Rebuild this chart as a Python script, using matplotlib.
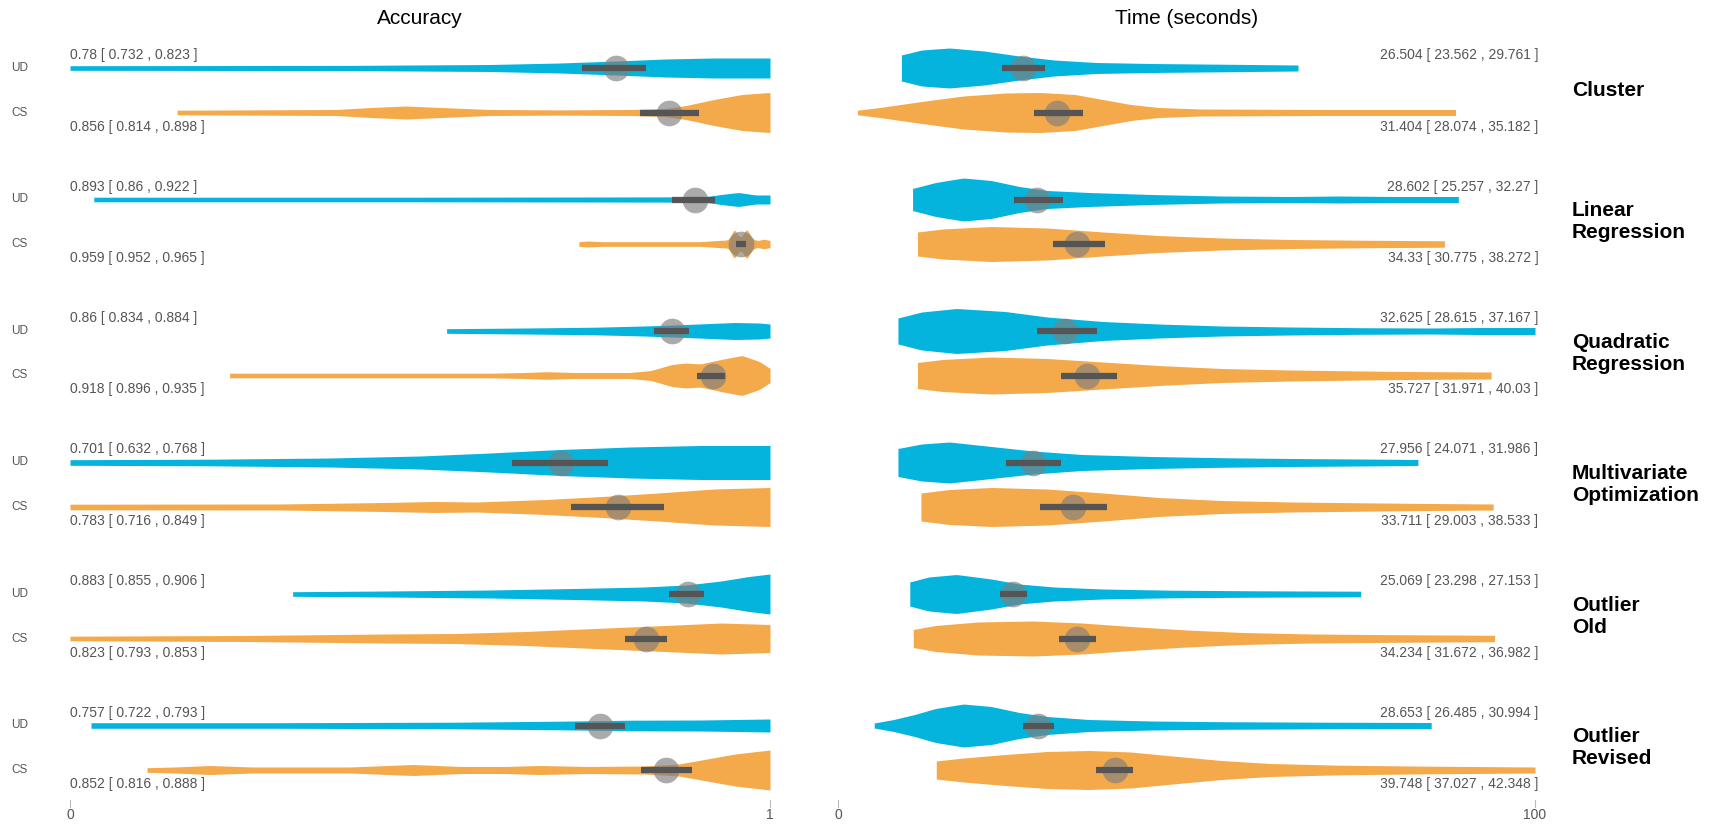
import numpy as np
import matplotlib.pyplot as plt

plt.rcParams['font.family'] = ['Liberation Sans', 'DejaVu Sans']

# task groups, top to bottom
tasks = ["Cluster", "Linear\nRegression", "Quadratic\nRegression",
         "Multivariate\nOptimization", "Outlier\nOld", "Outlier\nRevised"]
conditions = ["UD", "CS"]

# mean and 95% interval per task
acc_ud_mean = [0.78, 0.893, 0.86, 0.701, 0.883, 0.757]
acc_ud_lo = [0.732, 0.86, 0.834, 0.632, 0.855, 0.722]
acc_ud_hi = [0.823, 0.922, 0.884, 0.768, 0.906, 0.793]
acc_cs_mean = [0.856, 0.959, 0.918, 0.783, 0.823, 0.852]
acc_cs_lo = [0.814, 0.952, 0.896, 0.716, 0.793, 0.816]
acc_cs_hi = [0.898, 0.965, 0.935, 0.849, 0.853, 0.888]

time_ud_mean = [26.504, 28.602, 32.625, 27.956, 25.069, 28.653]
time_ud_lo = [23.562, 25.257, 28.615, 24.071, 23.298, 26.485]
time_ud_hi = [29.761, 32.27, 37.167, 31.986, 27.153, 30.994]
time_cs_mean = [31.404, 34.33, 35.727, 33.711, 34.234, 39.748]
time_cs_lo = [28.074, 30.775, 31.971, 29.003, 31.672, 37.027]
time_cs_hi = [35.182, 38.272, 40.03, 38.533, 36.982, 42.348]

# violin outlines: (value, half width in px) pairs
acc_ud_shapes = [
    [(0.0, 2.3), (0.4, 2.6), (0.6, 3.5), (0.7, 5), (0.78, 7), (0.85, 9), (0.92, 10), (1.0, 10)],
    [(0.034, 2.3), (0.5, 2.3), (0.85, 2.6), (0.91, 3), (0.93, 5), (0.955, 7), (0.98, 4.5), (1.0, 4.5)],
    [(0.538, 2.3), (0.65, 3), (0.75, 3.8), (0.82, 5), (0.88, 6.5), (0.95, 8.5), (0.985, 8), (1.0, 7)],
    [(0.0, 2.8), (0.2, 3.3), (0.37, 4.5), (0.5, 6.5), (0.6, 9.5), (0.7, 13), (0.8, 15.5), (0.9, 17), (1.0, 17)],
    [(0.318, 2.3), (0.45, 3), (0.6, 4), (0.72, 5.5), (0.82, 7), (0.88, 9), (0.93, 13), (0.97, 17.5), (1.0, 20)],
    [(0.03, 2.8), (0.3, 2.8), (0.55, 3.3), (0.7, 4.3), (0.8, 5.3), (0.9, 5.5), (1.0, 6.5)],
]
acc_cs_shapes = [
    [(0.153, 2.3), (0.38, 3), (0.43, 5), (0.48, 6.5), (0.53, 5), (0.6, 3), (0.7, 2.6), (0.8, 3),
     (0.85, 4), (0.88, 7), (0.92, 13), (0.96, 18), (1.0, 20)],
    [(0.727, 2.3), (0.74, 3), (0.76, 2.3), (0.9, 2.3), (0.925, 3.5), (0.94, 4), (0.944, 8), (0.949, 16),
     (0.953, 10), (0.958, 6), (0.962, 10), (0.967, 16), (0.972, 8), (0.978, 4), (0.985, 3.5), (0.99, 5),
     (1.0, 3.5)],
    [(0.228, 2.3), (0.6, 2.3), (0.65, 3), (0.68, 3.8), (0.72, 3), (0.8, 3), (0.83, 5), (0.86, 11),
     (0.88, 12.5), (0.9, 11.5), (0.93, 16), (0.96, 20), (0.985, 14), (1.0, 7)],
    [(0.0, 2.8), (0.3, 3), (0.45, 4.5), (0.52, 5.5), (0.58, 5), (0.68, 7.5), (0.76, 10.5), (0.84, 14),
     (0.92, 18), (1.0, 19.5)],
    [(0.0, 2.3), (0.25, 3), (0.45, 4.5), (0.55, 5), (0.65, 7), (0.75, 10), (0.85, 13), (0.93, 15.5), (1.0, 14)],
    [(0.11, 2.3), (0.15, 3), (0.2, 4.5), (0.26, 3), (0.4, 3), (0.49, 5.5), (0.56, 3.5), (0.62, 3.5),
     (0.67, 4.5), (0.74, 3.5), (0.82, 4), (0.87, 6), (0.91, 11), (0.95, 16), (1.0, 20)],
]
time_ud_shapes = [
    [(9.1, 13), (12, 18), (16, 20), (21, 17), (26, 12), (31, 8), (37, 5.5), (45, 4.5), (55, 3.8), (66, 3)],
    [(10.7, 11), (14, 17), (18, 21.5), (22, 19), (26, 13), (30, 9), (36, 7), (45, 5), (55, 3.5), (65, 3),
     (72, 3.5), (80, 3), (89, 3)],
    [(8.6, 13), (12, 19), (17, 22.5), (24, 19.5), (30, 14), (38, 9.5), (46, 7), (55, 5), (65, 4), (75, 3.3),
     (85, 3), (92, 3.5), (100, 3.5)],
    [(8.6, 14), (12, 18.5), (16, 20.5), (22, 16), (28, 11.5), (35, 8), (45, 6), (55, 4.8), (65, 4), (75, 3.5),
     (83.2, 3)],
    [(10.3, 12), (13, 17), (17, 19.5), (22, 15), (26, 10), (31, 7), (38, 5), (48, 3.8), (60, 3.2), (75, 2.8)],
    [(5.2, 2.5), (8, 6), (11, 11), (14, 17), (18, 21.5), (22, 19), (26, 13), (30, 9), (36, 6), (45, 4.5),
     (55, 3.8), (70, 3.3), (85.1, 3)],
]
time_cs_shapes = [
    [(2.8, 2.3), (6, 5), (12, 11), (18, 16.5), (24, 19.5), (29, 20), (34, 18), (38, 13), (42, 8), (46, 5),
     (52, 3.5), (70, 3), (88.6, 3)],
    [(11.4, 12), (15, 15), (22, 17.5), (30, 16), (38, 12), (46, 8.5), (55, 6), (65, 4.5), (75, 3.8), (87, 3.2)],
    [(11.4, 13), (15, 16), (22, 18.5), (30, 17), (38, 13.5), (46, 10), (55, 7), (65, 5.5), (75, 4.5),
     (85, 3.8), (93.7, 3.5)],
    [(11.9, 14), (16, 17.5), (22, 19.5), (30, 18), (38, 14), (46, 9.5), (55, 6.5), (65, 5), (75, 4.2),
     (85, 3.5), (94, 3)],
    [(10.8, 9), (14, 13), (20, 16.5), (28, 17.5), (35, 15.5), (42, 12), (50, 8.5), (58, 6), (68, 4.5),
     (80, 3.8), (94.2, 3.2)],
    [(14.1, 9), (18, 12), (24, 15.5), (30, 18.5), (36, 19.5), (42, 18), (48, 14), (55, 9.5), (62, 6.5),
     (72, 4.8), (85, 3.8), (100, 3)],
]

acc_ticks = [0, 1]
time_ticks = [0, 100]

BLUE = '#05b4dc'
ORANGE = '#f4a94a'
TEXT_GRAY = '#555555'

W, H = 1713, 825
ROW0 = 68        # y of first UD row, px from top
ROW_STEP = 131.5
PAIR_GAP = 44.5


def row_y(i, j):
    return ROW0 + i * ROW_STEP + j * PAIR_GAP


def smooth_profile(shape, span):
    """Interpolate the outline on a fine grid and soften the corners"""
    xs = np.array([p[0] for p in shape])
    ws = np.array([p[1] for p in shape])
    grid = np.linspace(xs[0], xs[-1], 1000)
    w = np.interp(grid, xs, ws)
    step = grid[1] - grid[0]
    sigma = 0.002 * span / step
    if sigma >= 0.5:
        k = np.arange(-int(3 * sigma) - 1, int(3 * sigma) + 2)
        kern = np.exp(-0.5 * (k / sigma) ** 2)
        kern /= kern.sum()
        pad = len(k) // 2
        wp = np.pad(w, pad, mode='edge')
        w = np.convolve(wp, kern, mode='valid')
    return grid, w


def draw_panel(ax, span, shapes_ud, shapes_cs, means, los, his):
    for i in range(len(tasks)):
        for j, (shapes, color) in enumerate([(shapes_ud, BLUE), (shapes_cs, ORANGE)]):
            y = row_y(i, j)
            grid, w = smooth_profile(shapes[i], span)
            ax.fill_between(grid, y - w, y + w, color=color, lw=0, zorder=2)
            m, lo, hi = means[j][i], los[j][i], his[j][i]
            ax.plot([m], [y], 'o', ms=18.5, color='#7f7f7f', alpha=0.65, mec='none', zorder=3)
            ax.plot([lo, hi], [y, y], color='#555555', lw=4.5, solid_capstyle='butt', zorder=4)


fig = plt.figure(figsize=(W / 100, H / 100), dpi=100)
ax_acc = fig.add_axes([70 / W, 0, 700 / W, 1])
ax_time = fig.add_axes([838 / W, 0, 697 / W, 1])

ax_acc.set_xlim(0, 1)
ax_time.set_xlim(0, 100)
for ax in (ax_acc, ax_time):
    ax.set_ylim(H, 0)
    ax.axis('off')

draw_panel(ax_acc, 1.0, acc_ud_shapes, acc_cs_shapes,
           [acc_ud_mean, acc_cs_mean], [acc_ud_lo, acc_cs_lo], [acc_ud_hi, acc_cs_hi])
draw_panel(ax_time, 100.0, time_ud_shapes, time_cs_shapes,
           [time_ud_mean, time_cs_mean], [time_ud_lo, time_cs_lo], [time_ud_hi, time_cs_hi])

# value labels
for i in range(len(tasks)):
    acc_vals = [(acc_ud_mean[i], acc_ud_lo[i], acc_ud_hi[i]), (acc_cs_mean[i], acc_cs_lo[i], acc_cs_hi[i])]
    time_vals = [(time_ud_mean[i], time_ud_lo[i], time_ud_hi[i]),
                 (time_cs_mean[i], time_cs_lo[i], time_cs_hi[i])]
    for j in range(2):
        y = row_y(i, j) + (-13 if j == 0 else 14)
        m, lo, hi = acc_vals[j]
        ax_acc.text(0, y, f"{m:g} [ {lo:g} , {hi:g} ]", ha='left', va='center',
                    fontsize=10, color=TEXT_GRAY, zorder=5)
        m, lo, hi = time_vals[j]
        ax_time.text(100.5, y, f"{m:g} [ {lo:g} , {hi:g} ]", ha='right', va='center',
                     fontsize=10, color=TEXT_GRAY, zorder=5)
        fig.text(20 / W, 1 - row_y(i, j) / H, conditions[j], ha='center', va='center',
                 fontsize=8.5, color=TEXT_GRAY)
    mid = (row_y(i, 0) + row_y(i, 1)) / 2
    fig.text(1572 / W, 1 - mid / H, tasks[i], ha='left', va='center', fontsize=15,
             fontweight='bold', linespacing=1.2)

# panel titles
ax_acc.text(0.5, 18, "Accuracy", ha='center', va='center', fontsize=15)
ax_time.text(50, 18, "Time (seconds)", ha='center', va='center', fontsize=15)

# bottom ticks
for ax, ticks in ((ax_acc, acc_ticks), (ax_time, time_ticks)):
    for t in ticks:
        ax.plot([t, t], [800, 807], color='#bbbbbb', lw=0.8, clip_on=False)
        ax.text(t, 815, f"{t}", ha='center', va='center', fontsize=10, color=TEXT_GRAY)

fig.savefig('out.png', dpi=100)
